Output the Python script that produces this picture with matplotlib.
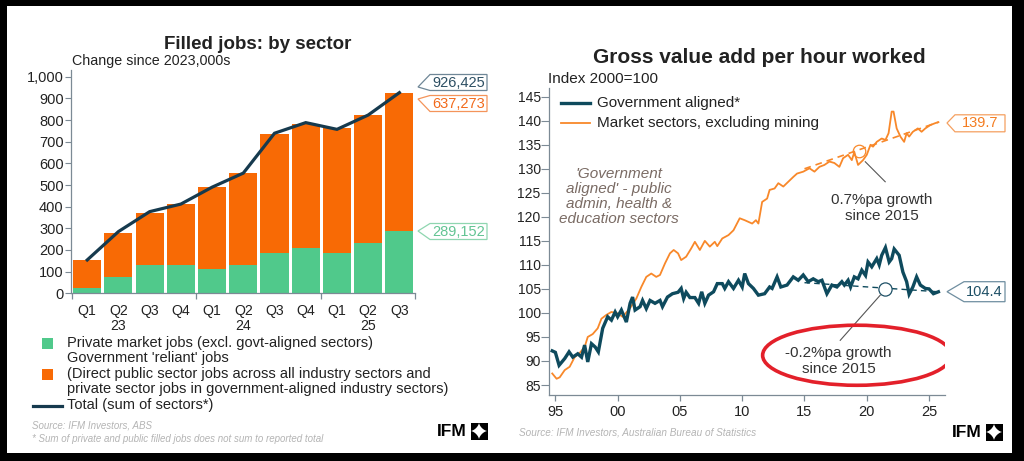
import matplotlib
matplotlib.use('Agg')
import matplotlib.pyplot as plt
import numpy as np
from matplotlib.patches import Rectangle, Polygon, Ellipse
from matplotlib.lines import Line2D
from matplotlib.transforms import IdentityTransform, blended_transform_factory
from matplotlib.ticker import FuncFormatter

plt.rcParams['font.family'] = ['Liberation Sans', 'DejaVu Sans']

# ---------------- data: left chart (000s, change since 2023) ----------------
quarters = ['Q1', 'Q2', 'Q3', 'Q4', 'Q1', 'Q2', 'Q3', 'Q4', 'Q1', 'Q2', 'Q3']
year_labels = ['23', '24', '25']
year_label_pos = [1, 5, 9]
year_boundaries = [-0.5, 3.5, 7.5, 10.5]
private_jobs = [23, 77, 131, 131, 111, 129, 187, 208, 186, 231, 289.152]
govt_reliant_jobs = [131, 203, 242, 281, 378, 428, 547, 574, 576, 592, 637.273]
total_jobs = [154, 285, 377, 412, 490, 555, 739, 788, 757, 823, 926.425]

# ---------------- data: right chart (index 2000=100) ----------------
gov_years = [1994.75, 1995.0, 1995.3, 1995.75, 1996.1, 1996.4, 1996.8, 1997.1, 1997.35, 1997.6,
             1997.9, 1998.2, 1998.45, 1998.8, 1999.2, 1999.5, 1999.8, 2000.0, 2000.3, 2000.7,
             2001.0, 2001.2, 2001.4, 2001.8, 2002.0, 2002.3, 2002.6, 2003.0, 2003.4, 2003.6,
             2004.0, 2004.4, 2004.85, 2005.1, 2005.3, 2005.5, 2005.8, 2006.2, 2006.5, 2006.75,
             2007.0, 2007.3, 2007.7, 2008.0, 2008.4, 2008.6, 2008.9, 2009.3, 2009.7, 2010.0,
             2010.2, 2010.5, 2010.9, 2011.3, 2011.8, 2012.2, 2012.4, 2012.8, 2013.1, 2013.6,
             2014.1, 2014.5, 2014.9, 2015.3, 2015.7, 2016.1, 2016.4, 2016.8, 2017.2, 2017.6,
             2018.0, 2018.2, 2018.5, 2018.7, 2019.0, 2019.3, 2019.6, 2019.9, 2020.1, 2020.4,
             2020.8, 2021.0, 2021.2, 2021.5, 2021.8, 2022.0, 2022.2, 2022.6, 2022.9, 2023.2,
             2023.4, 2023.7, 2024.0, 2024.3, 2024.7, 2025.0, 2025.35, 2025.75]
gov_index = [92.1, 91.8, 89.1, 90.5, 91.9, 90.8, 91.5, 90.8, 93.3, 89.8,
             93.6, 92.9, 91.9, 96.8, 99.2, 98.5, 100.2, 99.2, 100.6, 98.1,
             102.0, 103.3, 100.6, 101.3, 102.6, 100.9, 102.6, 102.0, 102.6, 101.3,
             103.3, 104.0, 104.3, 105.1, 103.0, 104.3, 103.2, 103.2, 102.0, 104.4,
             102.0, 103.7, 104.4, 106.1, 106.1, 105.1, 106.5, 105.1, 106.8, 105.4,
             108.2, 106.1, 105.1, 103.7, 104.0, 105.4, 105.1, 107.5, 105.4, 105.8,
             107.5, 106.8, 107.9, 106.5, 107.1, 106.5, 106.8, 104.0, 105.8, 105.4,
             106.5, 105.8, 106.8, 105.4, 107.5, 107.1, 108.9, 107.8, 110.6, 109.6,
             111.3, 110.0, 112.0, 113.6, 110.6, 111.3, 113.3, 112.0, 108.5, 106.5,
             103.9, 105.4, 107.5, 105.8, 105.1, 105.0, 104.0, 104.4]

mkt_years = [1994.75, 1995.1, 1995.35, 1995.75, 1996.15, 1996.55, 1996.9, 1997.35, 1997.6, 1998.0,
             1998.4, 1998.7, 1999.1, 1999.5, 2000.0, 2000.4, 2001.0, 2001.5, 2001.9, 2002.3,
             2002.7, 2003.1, 2003.4, 2003.8, 2004.2, 2004.5, 2004.85, 2005.1, 2005.5, 2005.9,
             2006.2, 2006.6, 2007.0, 2007.4, 2007.8, 2008.0, 2008.4, 2008.9, 2009.3, 2009.8,
             2010.2, 2010.8, 2011.1, 2011.3, 2011.6, 2012.0, 2012.2, 2012.6, 2012.9, 2013.3,
             2013.7, 2014.1, 2014.4, 2014.9, 2015.4, 2015.8, 2016.2, 2016.6, 2017.0, 2017.4,
             2017.8, 2018.1, 2018.5, 2018.8, 2019.0, 2019.3, 2019.7, 2020.0, 2020.3, 2020.5,
             2020.8, 2021.2, 2021.5, 2021.75, 2022.0, 2022.15, 2022.4, 2022.7, 2023.0, 2023.2,
             2023.4, 2023.7, 2024.1, 2024.4, 2024.7, 2025.1, 2025.5, 2025.75]
mkt_index = [87.4, 86.3, 86.6, 88.1, 88.8, 90.8, 91.5, 92.9, 95.0, 95.6,
             96.8, 98.8, 99.6, 100.2, 99.9, 99.2, 101.0, 103.0, 105.4, 107.5,
             108.2, 107.5, 107.9, 110.3, 112.4, 113.1, 112.4, 111.0, 111.7, 113.4,
             114.8, 113.1, 115.0, 113.8, 114.8, 113.9, 115.5, 116.2, 117.2, 119.7,
             119.3, 118.6, 119.3, 118.6, 123.1, 123.8, 125.6, 125.9, 127.0, 126.3,
             127.3, 128.3, 129.0, 129.4, 130.1, 129.4, 130.4, 130.8, 131.5, 131.2,
             130.4, 132.2, 132.9, 131.8, 133.5, 130.8, 131.8, 132.9, 135.0, 134.6,
             135.6, 136.3, 136.0, 137.4, 141.9, 141.9, 138.4, 136.7, 135.6, 137.4,
             136.7, 137.7, 138.4, 137.7, 138.4, 139.1, 139.5, 139.7]

trend_years = [2015.0, 2025.75]
gov_trend = [106.3, 104.4]
mkt_trend = [130.0, 139.7]
mkt_marker = (2019.4, 133.6)
gov_marker = (2021.5, 104.95)
xtick_years = [1995, 2000, 2005, 2010, 2015, 2020, 2025]
xtick_labels = ['95', '00', '05', '10', '15', '20', '25']

# ---------------- colours ----------------
GREEN = '#50c98b'
ORANGE = '#f86a05'
NAVY = '#163a4e'
TEAL = '#0e4a5d'
MKT = '#f8882a'
AXC = '#7c8a95'
TXT = '#222222'
SRC = '#b4b4b4'

W, H = 1024, 461
fig = plt.figure(figsize=(W / 100, H / 100), dpi=100)
fig.patch.set_facecolor('black')


def fx(px):
    return px / W


def fy(py):
    return 1 - py / H


def disp(px, py):
    return (px, H - py)


fig.add_artist(Rectangle((fx(7), fy(453)), (1012 - 7) / W, (453 - 6) / H,
                         transform=fig.transFigure, facecolor='white',
                         edgecolor='none', zorder=-5))


def callout(text, tip, cx, cy, bw, bh, tcolor, ecolor):
    bl, br = cx - bw / 2, cx + bw / 2
    top, bot = cy - bh / 2, cy + bh / 2
    verts = [disp(*tip), disp(bl, top), disp(br, top), disp(br, bot), disp(bl, bot)]
    fig.add_artist(Polygon(verts, closed=True, transform=IdentityTransform(),
                           facecolor='white', edgecolor=ecolor, lw=0.9, zorder=5))
    fig.text(fx(cx), fy(cy), text, ha='center', va='center', fontsize=10.5,
             color=tcolor, zorder=6)


def ifm_logo(x0, yc):
    fig.text(fx(x0), fy(yc), 'IFM', ha='left', va='center', fontsize=12.5,
             fontweight='bold', color='black')
    s = 17
    ix = x0 + 34
    fig.add_artist(Rectangle(disp(ix, yc + s / 2), s, s, transform=IdentityTransform(),
                             facecolor='black', edgecolor='none', zorder=5))
    t = np.linspace(0, 2 * np.pi, 60)
    r = s / 2 * 0.98
    star = [disp(ix + s / 2 + r * np.cos(a) ** 3, yc - r * np.sin(a) ** 3)
            for a in t + 0.25]
    fig.add_artist(Polygon(star, closed=True, transform=IdentityTransform(),
                           facecolor='white', edgecolor='none', zorder=6))


# ======================= LEFT CHART =======================
ax1 = fig.add_axes([fx(71), fy(293.3), (415 - 71) / W, (293.3 - 70) / H])
ax1.set_facecolor('none')
x = np.arange(len(quarters))
ax1.bar(x, private_jobs, width=0.9, color=GREEN, edgecolor='none', zorder=2)
ax1.bar(x, govt_reliant_jobs, bottom=private_jobs, width=0.9, color=ORANGE,
        edgecolor='none', zorder=2)
ax1.plot(x, total_jobs, color=NAVY, lw=2.3, zorder=3, solid_joinstyle='miter')
ax1.set_xlim(-0.52, 10.48)
ax1.set_ylim(0, 1031)
for s in ('top', 'right'):
    ax1.spines[s].set_visible(False)
for s in ('left', 'bottom'):
    ax1.spines[s].set_color(AXC)
    ax1.spines[s].set_linewidth(0.9)
ax1.set_yticks(np.arange(0, 1001, 100))
ax1.yaxis.set_major_formatter(FuncFormatter(lambda v, p: f'{int(v):,}'))
ax1.tick_params(axis='y', length=4.3, width=0.8, color=AXC, pad=1,
                labelsize=10.5, labelcolor=TXT)
ax1.set_xticks(x)
ax1.set_xticklabels(quarters)
ax1.set_xticks(year_boundaries, minor=True)
ax1.tick_params(axis='x', which='major', length=0, pad=7.5, labelsize=10.2, labelcolor=TXT)
ax1.tick_params(axis='x', which='minor', length=4.5, width=0.9, color=AXC)
tr = blended_transform_factory(ax1.transData, ax1.transAxes)
for lab, pos in zip(year_labels, year_label_pos):
    ax1.text(pos, -0.145, lab, transform=tr, ha='center', va='center', fontsize=10.2, color=TXT)

fig.text(fx(257.5), fy(49), 'Filled jobs: by sector', ha='center', va='baseline',
         fontsize=13.5, fontweight='bold', color=TXT)
fig.text(fx(72.5), fy(64.5), 'Change since 2023,000s', ha='left', va='baseline',
         fontsize=10.3, color=TXT)

# callouts left
callout(f'{total_jobs[-1] * 1000:,.0f}', (418, 87), 458.5, 82.5, 57, 16, '#2d4f63', '#6f8797')
callout(f'{govt_reliant_jobs[-1] * 1000:,.0f}', (418, 99), 458.5, 103.5, 57, 16, '#f26a1b', '#f4945a')
callout(f'{private_jobs[-1] * 1000:,.0f}', (418, 231), 458.5, 231.5, 57, 16, '#62c493', '#8fd6b0')

# legend left
fig.add_artist(Rectangle((fx(42), fy(348.5)), 11 / W, 11 / H, transform=fig.transFigure,
                         facecolor=GREEN, edgecolor='none'))
fig.add_artist(Rectangle((fx(42), fy(379.5)), 11 / W, 11 / H, transform=fig.transFigure,
                         facecolor=ORANGE, edgecolor='none'))
fig.add_artist(Line2D([fx(33), fx(62)], [fy(405.5), fy(405.5)], transform=fig.transFigure,
                      color=NAVY, lw=2.3))
leg_lines = [("Private market jobs (excl. govt-aligned sectors)", 342.7),
             ("Government 'reliant' jobs", 358.3),
             ("(Direct public sector jobs across all industry sectors and", 374),
             ("private sector jobs in government-aligned industry sectors)", 389.3),
             ("Total (sum of sectors*)", 405)]
for t, yy in leg_lines:
    fig.text(fx(67), fy(yy), t, ha='left', va='center', fontsize=10.5, color=TXT)

fig.text(fx(32), fy(425), 'Source: IFM Investors, ABS', ha='left', va='center',
         fontsize=7, style='italic', color=SRC)
fig.text(fx(32), fy(438.5), '* Sum of private and public filled jobs does not sum to reported total',
         ha='left', va='center', fontsize=7, style='italic', color=SRC)
ifm_logo(436.5, 431)

# ======================= RIGHT CHART =======================
ax2 = fig.add_axes([fx(549), fy(395), (945 - 549) / W, (395 - 88) / H])
ax2.set_facecolor('none')
ax2.plot(mkt_years, mkt_index, color=MKT, lw=1.3, zorder=3)
ax2.plot(gov_years, gov_index, color=TEAL, lw=2.4, zorder=4, solid_joinstyle='miter')
ax2.plot(trend_years, mkt_trend, color=MKT, lw=1.2, ls=(0, (4, 3)), zorder=3)
ax2.plot(trend_years, gov_trend, color=TEAL, lw=1.0, ls=(0, (4, 3)), zorder=3)
ax2.plot(*mkt_marker, marker='o', ms=9, mfc='none', mec=MKT, mew=0.9, zorder=5)
ax2.plot(*gov_marker, marker='o', ms=9.5, mfc='white', mec='#1e5066', mew=0.9, zorder=5)
ax2.set_xlim(1994.49, 2026.28)
ax2.set_ylim(82.92, 146.81)
for s in ('top', 'right'):
    ax2.spines[s].set_visible(False)
for s in ('left', 'bottom'):
    ax2.spines[s].set_color(AXC)
    ax2.spines[s].set_linewidth(0.9)
ax2.set_yticks(np.arange(85, 146, 5))
ax2.tick_params(axis='y', length=5.5, width=0.8, color=AXC, pad=0.5,
                labelsize=10, labelcolor=TXT)
ax2.set_xticks(xtick_years)
ax2.set_xticklabels(xtick_labels)
ax2.tick_params(axis='x', length=4, width=0.9, color=AXC, pad=3.5,
                labelsize=10.5, labelcolor=TXT)

# annotations
ax2.plot([2019.88, 2021.48], [131.46, 127.3], color='#555555', lw=0.8, zorder=5)
ax2.plot([2021.08, 2017.87], [103.69, 94.3], color='#555555', lw=0.8, zorder=5)
ax2.text(2021.22, 121.85, '0.7%pa growth\nsince 2015', ha='center', va='center',
         fontsize=11, color='#333333', linespacing=1.15)
ax2.text(2017.74, 90.04, '-0.2%pa growth\nsince 2015', ha='center', va='center',
         fontsize=11, color='#333333', linespacing=1.15)
ax2.add_patch(Ellipse((2019.21, 91.19), 15.14, 12.5, facecolor='none',
                      edgecolor='#e3202a', lw=2.6, zorder=6))
ax2.text(2000.09, 124.3, "'Government\naligned' - public\nadmin, health &\neducation sectors",
         ha='center', va='center', fontsize=11, style='italic', color='#7a6b64',
         linespacing=1.1)

fig.text(fx(759.5), fy(63), 'Gross value add per hour worked', ha='center', va='baseline',
         fontsize=15, fontweight='bold', color=TXT)
fig.text(fx(548.5), fy(82.5), 'Index 2000=100', ha='left', va='baseline',
         fontsize=11, color=TXT)

# legend right
fig.add_artist(Line2D([fx(561), fx(590)], [fy(103.3), fy(103.3)], transform=fig.transFigure,
                      color=TEAL, lw=2.4))
fig.add_artist(Line2D([fx(561), fx(590)], [fy(122.7), fy(122.7)], transform=fig.transFigure,
                      color=MKT, lw=1.3))
fig.text(fx(597), fy(103.3), 'Government aligned*', ha='left', va='center', fontsize=11, color=TXT)
fig.text(fx(597), fy(122.7), 'Market sectors, excluding mining', ha='left', va='center',
         fontsize=11, color=TXT)

# callouts right
callout(f'{mkt_index[-1]:.1f}', (947, 123), 980, 123.3, 50, 17, '#f47c20', '#f5a060')
callout(f'{gov_index[-1]:.1f}', (947, 291.7), 984.5, 291.7, 41, 20, '#1e5066', '#6f8ea0')

fig.text(fx(519), fy(432), 'Source: IFM Investors, Australian Bureau of Statistics', ha='left',
         va='center', fontsize=7.2, style='italic', color=SRC)
ifm_logo(951.5, 432)

fig.savefig('out.png', dpi=100, facecolor=fig.get_facecolor())
